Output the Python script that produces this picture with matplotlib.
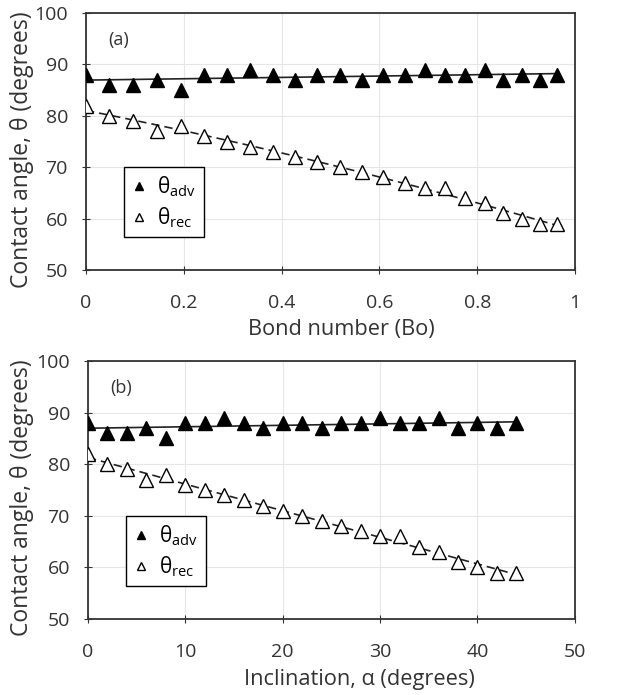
import numpy as np
import matplotlib
matplotlib.use('Agg')
import matplotlib.pyplot as plt

plt.rcParams['font.family'] = ['Open Sans', 'DejaVu Sans']
plt.rcParams['mathtext.fontset'] = 'custom'
plt.rcParams['mathtext.rm'] = 'Open Sans'

bond = [0, 0.048, 0.097, 0.145, 0.194, 0.241, 0.289, 0.335, 0.382, 0.428, 0.473, 0.519,
        0.564, 0.607, 0.652, 0.694, 0.735, 0.776, 0.815, 0.853, 0.892, 0.928, 0.964]
incl = [0, 2, 4, 6, 8, 10, 12, 14, 16, 18, 20, 22, 24, 26, 28, 30, 32, 34, 36, 38, 40, 42, 44]
theta_adv = [88, 86, 86, 87, 85, 88, 88, 89, 88, 87, 88, 88, 87, 88, 88, 89, 88, 88, 89, 87, 88, 87, 88]
theta_rec = [82, 80, 79, 77, 78, 76, 75, 74, 73, 72, 71, 70, 69, 68, 67, 66, 66, 64, 63, 61, 60, 59, 59]

fig = plt.figure(figsize=(6.21, 6.95), dpi=100)
ax1 = fig.add_axes([0.1385, 0.6115, 0.7874, 0.3698])
ax2 = fig.add_axes([0.1417, 0.1094, 0.784, 0.371])

TXT = '#333333'


def panel(ax, x, xmax, xstep, rec_deg, tag, xlabel, xl_pos, yl_x):
    x = np.array(x)
    xs = np.linspace(0, x.max(), 200)
    ax.plot(xs, np.polyval(np.polyfit(x, theta_adv, 1), xs), color='#222222', lw=1.2, zorder=2)
    ax.plot(xs, np.polyval(np.polyfit(x, theta_rec, rec_deg), xs), color='#222222', lw=1.2,
            ls=(0, (5, 3)), zorder=2)
    ax.plot(x, theta_adv, '^', color='black', ms=9.5, label=r'θ$_{\mathrm{adv}}$', zorder=3)
    ax.plot(x, theta_rec, '^', mfc='white', mec='black', mew=1.0, ms=9.5,
            label=r'θ$_{\mathrm{rec}}$', zorder=3)
    ax.set_xlim(0, xmax)
    ax.set_ylim(50, 100)
    ax.set_xticks(np.arange(0, xmax + xstep / 2, xstep))
    ax.set_yticks(range(50, 101, 10))
    ax.grid(True, color='#e6e6e6', lw=0.8)
    ax.set_axisbelow(True)
    for s in ax.spines.values():
        s.set_color('#333333')
        s.set_linewidth(1.3)
    ax.tick_params(labelsize=14, length=6, direction='inout', color='#333333', labelcolor=TXT)
    ax.tick_params(axis='x', pad=14)
    ax.tick_params(axis='y', pad=10)
    ax.set_ylabel('Contact angle, θ (degrees)', fontsize=16.5, color=TXT)
    ax.yaxis.set_label_coords(yl_x, 0.47)
    ax.yaxis.label.set_verticalalignment('center')
    ax.set_xlabel(xlabel, fontsize=15.7, color=TXT)
    ax.xaxis.set_label_coords(*xl_pos)
    ax.xaxis.label.set_verticalalignment('center')
    ax.text(0.046, 0.895, tag, transform=ax.transAxes, fontsize=13, color=TXT, va='center')
    leg = ax.legend(loc='upper left', bbox_to_anchor=(0.078, 0.40), fancybox=False,
                    edgecolor='black', framealpha=1, fontsize=15, handlelength=0.7,
                    handletextpad=0.55, markerscale=0.6, borderpad=0.35, labelspacing=0.3,
                    borderaxespad=0)
    leg.get_frame().set_linewidth(1.0)


panel(ax1, bond, 1, 0.2, 2, '(a)', 'Bond number (Bo)', (0.523, -0.233), -0.131)
ax1.set_xticklabels(['0', '0.2', '0.4', '0.6', '0.8', '1'])
panel(ax2, incl, 50, 10, 1, '(b)', 'Inclination, α (degrees)', (0.558, -0.236), -0.1355)

fig.savefig('out.png', dpi=100)
